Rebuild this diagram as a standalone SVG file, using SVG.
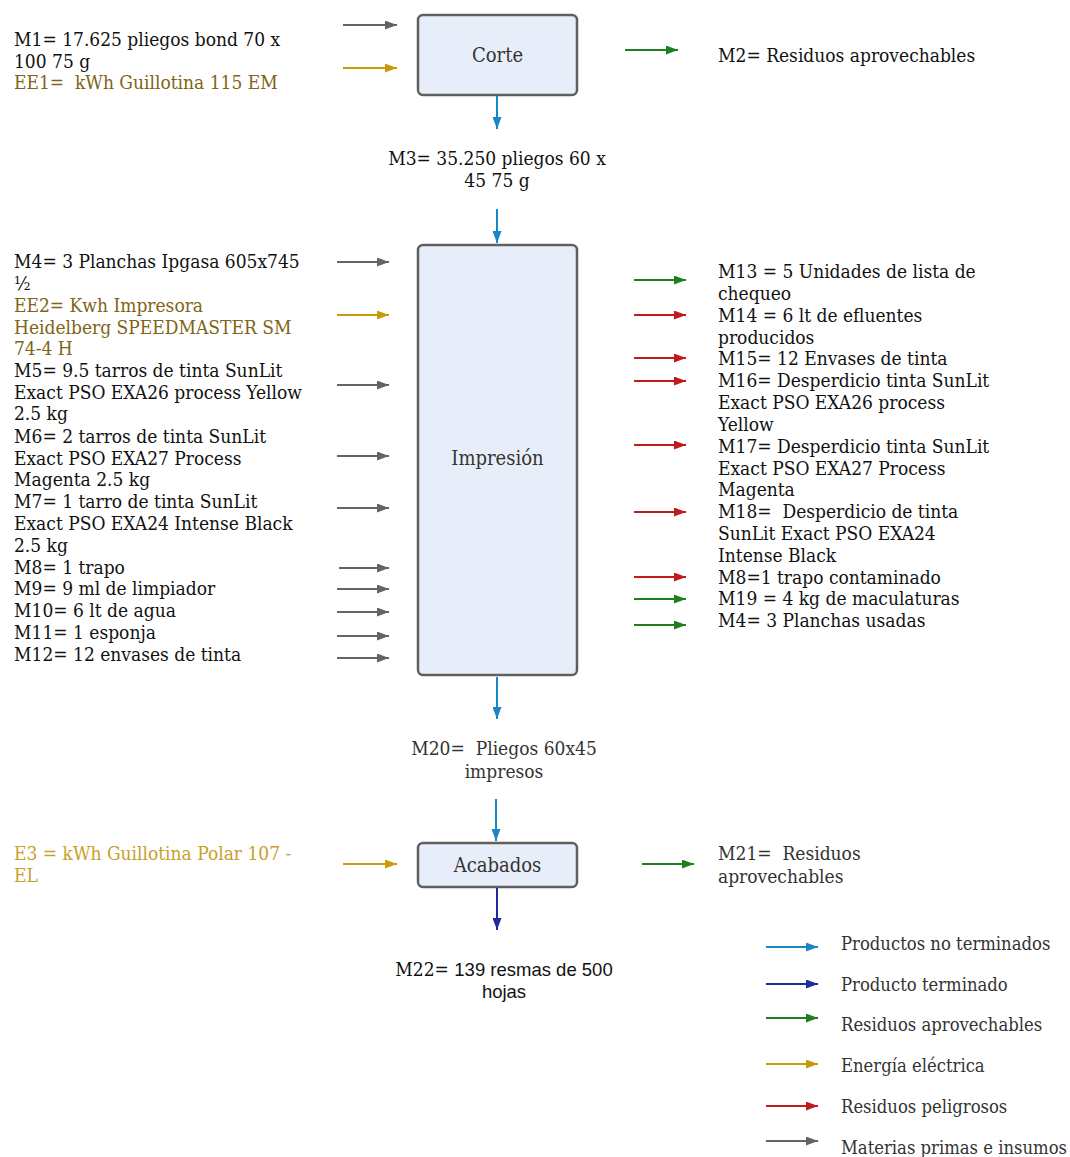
<svg xmlns="http://www.w3.org/2000/svg" width="1070" height="1157" viewBox="0 0 1070 1157">
  <style>
    text { font-family: "DejaVu Serif", "Liberation Serif", serif; font-stretch: condensed; font-size: 19px; white-space: pre; }
    .t { fill: #111111; }
    .lg { fill: #333333; }
    .leg { fill: #333333; font-size: 18.3px; }
    .ee { fill: #806417; }
    .e3 { fill: #c8a02a; }
    .lbl { fill: #333333; font-size: 20px; text-anchor: middle; }
    .mid { text-anchor: middle; }
    .sans { font-family: "Liberation Sans", Arial, sans-serif; font-stretch: normal; font-size: 18.5px; }
    .box { fill: #e8eef9; stroke: #5f5f5f; stroke-width: 2.5; }
    .c line { stroke-width: 2; fill: none; }
    .gray { stroke: #646464; }
    .gold { stroke: #c99a0c; }
    .green { stroke: #1f7f1f; }
    .red { stroke: #c01a1c; }
    .blue { stroke: #1b86c6; }
    .navy { stroke: #1f2b9a; }
  </style>
  <defs>
    <marker id="ah-gray" markerUnits="userSpaceOnUse" markerWidth="13" markerHeight="9" refX="12" refY="4.5" orient="auto"><path d="M0,0 L12,4.5 L0,9 z" fill="#646464"/></marker>
    <marker id="ah-gold" markerUnits="userSpaceOnUse" markerWidth="13" markerHeight="9" refX="12" refY="4.5" orient="auto"><path d="M0,0 L12,4.5 L0,9 z" fill="#c99a0c"/></marker>
    <marker id="ah-green" markerUnits="userSpaceOnUse" markerWidth="13" markerHeight="9" refX="12" refY="4.5" orient="auto"><path d="M0,0 L12,4.5 L0,9 z" fill="#1f7f1f"/></marker>
    <marker id="ah-red" markerUnits="userSpaceOnUse" markerWidth="13" markerHeight="9" refX="12" refY="4.5" orient="auto"><path d="M0,0 L12,4.5 L0,9 z" fill="#c01a1c"/></marker>
    <marker id="ah-blue" markerUnits="userSpaceOnUse" markerWidth="13" markerHeight="9" refX="12" refY="4.5" orient="auto"><path d="M0,0 L12,4.5 L0,9 z" fill="#1b86c6"/></marker>
    <marker id="ah-navy" markerUnits="userSpaceOnUse" markerWidth="13" markerHeight="9" refX="12" refY="4.5" orient="auto"><path d="M0,0 L12,4.5 L0,9 z" fill="#1f2b9a"/></marker>
  </defs>

  <!-- process nodes -->
  <g id="corte">
    <rect class="box" x="418" y="15" width="159" height="80" rx="5"/>
    <text class="lbl" x="497.5" y="62">Corte</text>
  </g>
  <g id="impresion">
    <rect class="box" x="418" y="245" width="159" height="430" rx="5"/>
    <text class="lbl" x="497.5" y="465">Impresión</text>
  </g>
  <g id="acabados">
    <rect class="box" x="418" y="843" width="159" height="44" rx="5"/>
    <text class="lbl" x="497.5" y="872">Acabados</text>
  </g>

  <!-- flow connectors -->
  <g id="connectors" class="c">
    <!-- Corte -->
    <line class="gray" x1="343" y1="25" x2="397" y2="25" marker-end="url(#ah-gray)"/>
    <line class="gold" x1="343" y1="68" x2="397" y2="68" marker-end="url(#ah-gold)"/>
    <line class="green" x1="625" y1="50" x2="678" y2="50" marker-end="url(#ah-green)"/>
    <line class="blue" x1="497" y1="96" x2="497" y2="129" marker-end="url(#ah-blue)"/>
    <line class="blue" x1="497" y1="209" x2="497" y2="243" marker-end="url(#ah-blue)"/>
    <!-- Impresión inputs -->
    <line class="gray" x1="337" y1="262" x2="389" y2="262" marker-end="url(#ah-gray)"/>
    <line class="gold" x1="337" y1="315" x2="389" y2="315" marker-end="url(#ah-gold)"/>
    <line class="gray" x1="337" y1="385" x2="389" y2="385" marker-end="url(#ah-gray)"/>
    <line class="gray" x1="337" y1="456" x2="389" y2="456" marker-end="url(#ah-gray)"/>
    <line class="gray" x1="337" y1="508" x2="389" y2="508" marker-end="url(#ah-gray)"/>
    <line class="gray" x1="339" y1="568" x2="389" y2="568" marker-end="url(#ah-gray)"/>
    <line class="gray" x1="337" y1="589" x2="389" y2="589" marker-end="url(#ah-gray)"/>
    <line class="gray" x1="337" y1="612" x2="389" y2="612" marker-end="url(#ah-gray)"/>
    <line class="gray" x1="337" y1="636" x2="389" y2="636" marker-end="url(#ah-gray)"/>
    <line class="gray" x1="337" y1="658" x2="389" y2="658" marker-end="url(#ah-gray)"/>
    <!-- Impresión outputs -->
    <line class="green" x1="634" y1="280" x2="686" y2="280" marker-end="url(#ah-green)"/>
    <line class="red" x1="634" y1="315" x2="686" y2="315" marker-end="url(#ah-red)"/>
    <line class="red" x1="634" y1="358" x2="686" y2="358" marker-end="url(#ah-red)"/>
    <line class="red" x1="634" y1="381" x2="686" y2="381" marker-end="url(#ah-red)"/>
    <line class="red" x1="634" y1="445" x2="686" y2="445" marker-end="url(#ah-red)"/>
    <line class="red" x1="634" y1="512" x2="686" y2="512" marker-end="url(#ah-red)"/>
    <line class="red" x1="634" y1="577" x2="686" y2="577" marker-end="url(#ah-red)"/>
    <line class="green" x1="634" y1="599" x2="686" y2="599" marker-end="url(#ah-green)"/>
    <line class="green" x1="634" y1="625" x2="686" y2="625" marker-end="url(#ah-green)"/>
    <line class="blue" x1="497" y1="677" x2="497" y2="719" marker-end="url(#ah-blue)"/>
    <line class="blue" x1="496" y1="799" x2="496" y2="841" marker-end="url(#ah-blue)"/>
    <!-- Acabados -->
    <line class="gold" x1="343" y1="864" x2="397" y2="864" marker-end="url(#ah-gold)"/>
    <line class="green" x1="642" y1="864" x2="694" y2="864" marker-end="url(#ah-green)"/>
    <line class="navy" x1="497" y1="888" x2="497" y2="930" marker-end="url(#ah-navy)"/>
    <!-- legend -->
    <line class="blue" x1="766" y1="947" x2="818" y2="947" marker-end="url(#ah-blue)"/>
    <line class="navy" x1="766" y1="984" x2="818" y2="984" marker-end="url(#ah-navy)"/>
    <line class="green" x1="766" y1="1018" x2="818" y2="1018" marker-end="url(#ah-green)"/>
    <line class="gold" x1="766" y1="1064" x2="818" y2="1064" marker-end="url(#ah-gold)"/>
    <line class="red" x1="766" y1="1106" x2="818" y2="1106" marker-end="url(#ah-red)"/>
    <line class="gray" x1="766" y1="1141" x2="818" y2="1141" marker-end="url(#ah-gray)"/>
  </g>

  <!-- Corte flows -->
  <g id="corte-in">
    <text class="t" x="14" y="46">M1= 17.625 pliegos bond 70 x</text>
    <text class="t" x="14" y="68">100 75 g</text>
    <text class="ee" x="14" y="89">EE1=  kWh Guillotina 115 EM</text>
  </g>
  <g id="corte-out">
    <text class="t" x="718" y="62">M2= Residuos aprovechables</text>
    <text class="t mid" x="497" y="165">M3= 35.250 pliegos 60 x</text>
    <text class="t mid" x="497" y="187">45 75 g</text>
  </g>

  <!-- Impresión inputs -->
  <g id="impresion-in">
    <text class="t" x="14" y="268">M4= 3 Planchas Ipgasa 605x745</text>
    <text class="t" x="14" y="290">½</text>
    <text class="ee" x="14" y="312">EE2= Kwh Impresora</text>
    <text class="ee" x="14" y="334">Heidelberg SPEEDMASTER SM</text>
    <text class="ee" x="14" y="355">74-4 H</text>
    <text class="t" x="14" y="377">M5= 9.5 tarros de tinta SunLit</text>
    <text class="t" x="14" y="399">Exact PSO EXA26 process Yellow</text>
    <text class="t" x="14" y="420">2.5 kg</text>
    <text class="t" x="14" y="443">M6= 2 tarros de tinta SunLit</text>
    <text class="t" x="14" y="465">Exact PSO EXA27 Process</text>
    <text class="t" x="14" y="486">Magenta 2.5 kg</text>
    <text class="t" x="14" y="508">M7= 1 tarro de tinta SunLit</text>
    <text class="t" x="14" y="530">Exact PSO EXA24 Intense Black</text>
    <text class="t" x="14" y="552">2.5 kg</text>
    <text class="t" x="14" y="574">M8= 1 trapo</text>
    <text class="t" x="14" y="595">M9= 9 ml de limpiador</text>
    <text class="t" x="14" y="617">M10= 6 lt de agua</text>
    <text class="t" x="14" y="639">M11= 1 esponja</text>
    <text class="t" x="14" y="661">M12= 12 envases de tinta</text>
  </g>

  <!-- Impresión outputs -->
  <g id="impresion-out">
    <text class="t" x="718" y="278">M13 = 5 Unidades de lista de</text>
    <text class="t" x="718" y="300">chequeo</text>
    <text class="t" x="718" y="322">M14 = 6 lt de efluentes</text>
    <text class="t" x="718" y="344">producidos</text>
    <text class="t" x="718" y="365">M15= 12 Envases de tinta</text>
    <text class="t" x="718" y="387">M16= Desperdicio tinta SunLit</text>
    <text class="t" x="718" y="409">Exact PSO EXA26 process</text>
    <text class="t" x="718" y="431">Yellow</text>
    <text class="t" x="718" y="453">M17= Desperdicio tinta SunLit</text>
    <text class="t" x="718" y="475">Exact PSO EXA27 Process</text>
    <text class="t" x="718" y="496">Magenta</text>
    <text class="t" x="718" y="518">M18=  Desperdicio de tinta</text>
    <text class="t" x="718" y="540">SunLit Exact PSO EXA24</text>
    <text class="t" x="718" y="562">Intense Black</text>
    <text class="t" x="718" y="584">M8=1 trapo contaminado</text>
    <text class="t" x="718" y="605">M19 = 4 kg de maculaturas</text>
    <text class="t" x="718" y="627">M4= 3 Planchas usadas</text>
    <text class="lg mid" x="504" y="755">M20=  Pliegos 60x45</text>
    <text class="lg mid" x="504" y="778">impresos</text>
  </g>

  <!-- Acabados flows -->
  <g id="acabados-flows">
    <text class="e3" x="14" y="860">E3 = kWh Guillotina Polar 107 -</text>
    <text class="e3" x="14" y="882">EL</text>
    <text class="lg" x="718" y="860">M21=  Residuos</text>
    <text class="lg" x="718" y="883">aprovechables</text>
    <text class="t mid" x="504" y="976">M22= <tspan class="sans">139 resmas de 500</tspan></text>
    <text class="t mid sans" x="504" y="998">hojas</text>
  </g>

  <!-- legend -->
  <g id="legend">
    <text class="leg" x="841" y="950">Productos no terminados</text>
    <text class="leg" x="841" y="991">Producto terminado</text>
    <text class="leg" x="841" y="1031">Residuos aprovechables</text>
    <text class="leg" x="841" y="1072">Energía eléctrica</text>
    <text class="leg" x="841" y="1113">Residuos peligrosos</text>
    <text class="leg" x="841" y="1154">Materias primas e insumos</text>
  </g>
</svg>
